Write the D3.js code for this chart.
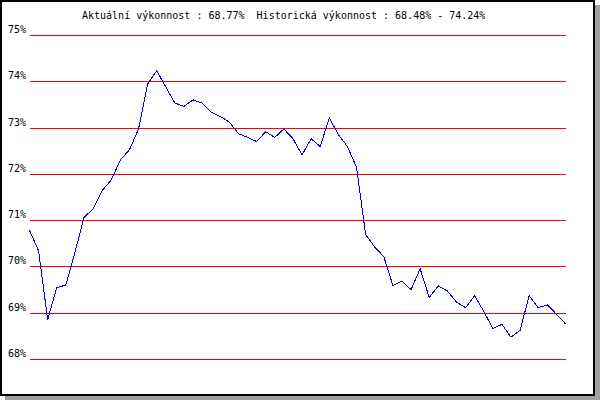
<!DOCTYPE html>
<meta charset="utf-8">
<style>
  body { margin: 0; background: #fff; }
  svg { display: block; }
  text { font-family: "DejaVu Sans Mono", monospace; font-size: 10px; fill: #000; white-space: pre; }
</style>
<body>
<script src="https://d3js.org/d3.v7.min.js"></script>
<script>
  // vykonnost v %, jedna hodnota na bod
  var values = [
    70.79, 70.35, 68.86, 69.55, 69.61, 70.31, 71.07, 71.25, 71.65, 71.88,
    72.31, 72.53, 72.98, 73.95, 74.24, 73.89, 73.54, 73.47, 73.61, 73.54,
    73.34, 73.25, 73.13, 72.88, 72.80, 72.71, 72.92, 72.80, 72.98, 72.77,
    72.42, 72.77, 72.60, 73.22, 72.86, 72.60, 72.15, 70.70, 70.43, 70.22,
    69.60, 69.69, 69.51, 69.96, 69.34, 69.59, 69.48, 69.24, 69.12, 69.38,
    69.04, 68.67, 68.76, 68.48, 68.63, 69.38, 69.12, 69.18, 68.98, 68.77
  ];
  var yTicks = [68, 69, 70, 71, 72, 73, 74, 75];
  var titleParts = ["Aktuální výkonnost : ", "68.77%", "  Historická výkonnost : ", "68.48%", " - ", "74.24%"];

  var W = 600, H = 400;
  var left = 29.5, right = 565.5;

  var x = d3.scaleLinear()
    .domain([0, values.length - 1])
    .range([left, right]);

  // axis adds its own 0.5px offset
  var y = d3.scaleLinear()
    .domain([68, 75])
    .range([359, 35]);

  var svg = d3.select("body").append("svg")
    .attr("width", W)
    .attr("height", H);

  // stin a ramecek
  svg.append("rect")
    .attr("x", 5).attr("y", 5)
    .attr("width", W - 5).attr("height", H - 5)
    .style("fill", "#a0a0a0");

  svg.append("rect")
    .attr("x", 1).attr("y", 1)
    .attr("width", 593).attr("height", 394)
    .style("fill", "#fff")
    .style("stroke", "#000")
    .style("stroke-width", 2);

  var yAxis = d3.axisLeft(y)
    .tickValues(yTicks)
    .tickSize(-(right - left))
    .tickFormat(function (d) { return d + "%"; });

  var gy = svg.append("g")
    .attr("transform", "translate(" + left + ",0)")
    .call(yAxis);

  gy.select(".domain").remove();
  gy.selectAll(".tick line")
    .style("stroke", "#ff0000")
    .style("shape-rendering", "crispEdges");
  gy.selectAll(".tick text")
    .attr("x", 8 - left)
    .attr("y", -2.5)
    .attr("dy", null)
    .style("text-anchor", "start")
    .style("font-family", "DejaVu Sans Mono, monospace")
    .style("font-size", "10px")
    .style("fill", "#000");

  var line = d3.line()
    .x(function (d, i) { return x(i); })
    .y(function (d) { return y(d) + 0.5; });

  svg.append("path")
    .datum(values)
    .attr("d", line)
    .style("fill", "none")
    .style("stroke", "#0000dd")
    .style("stroke-width", 1)
    .style("shape-rendering", "crispEdges");

  svg.append("text")
    .attr("x", 82)
    .attr("y", 19)
    .text(titleParts.join(""));
</script>
